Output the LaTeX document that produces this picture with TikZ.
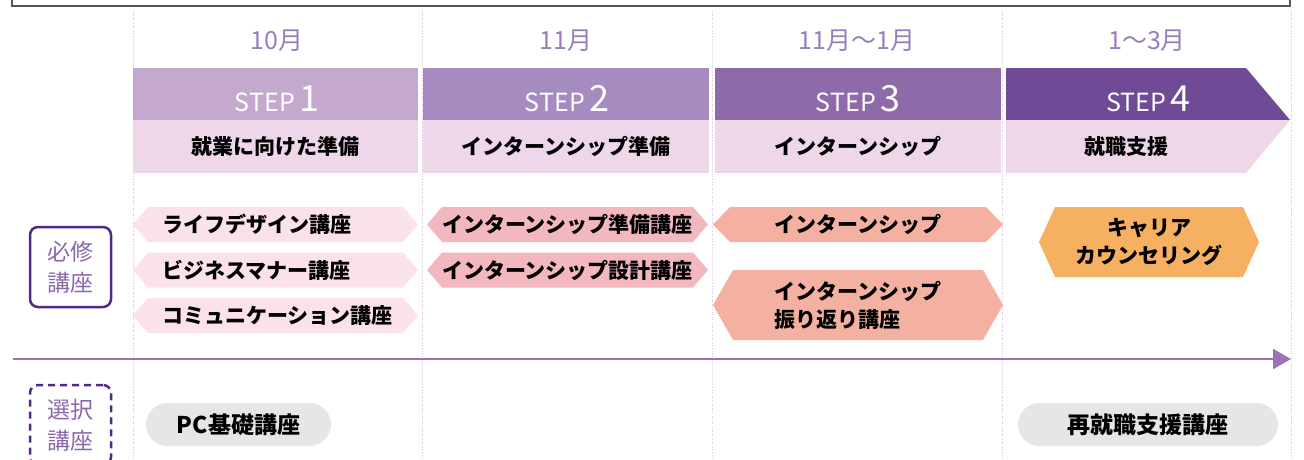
\documentclass[tikz,border=0pt]{standalone}
\usepackage{fontspec}
\setmainfont{Noto Sans CJK JP}
\usetikzlibrary{arrows.meta,backgrounds}

\definecolor{stepA}{RGB}{196,168,206}
\definecolor{stepB}{RGB}{165,139,192}
\definecolor{stepC}{RGB}{143,106,168}
\definecolor{stepD}{RGB}{110,74,151}
\definecolor{steprowcol}{RGB}{237,215,233}
\definecolor{hexA}{RGB}{251,225,235}
\definecolor{hexB}{RGB}{243,183,192}
\definecolor{hexC}{RGB}{244,177,161}
\definecolor{hexD}{RGB}{245,176,98}
\definecolor{pillcol}{RGB}{230,230,230}
\definecolor{monthcol}{RGB}{154,125,189}
\definecolor{boxcol}{RGB}{79,42,138}
\definecolor{labelcol}{RGB}{139,104,174}
\definecolor{axiscol}{RGB}{156,115,183}
\definecolor{dotcol}{RGB}{221,187,221}
\definecolor{framecol}{RGB}{85,85,85}

\begin{document}
\begin{tikzpicture}[x=1pt,y=1pt,yscale=-1,
  month/.style={text=monthcol,inner sep=0,font=\fontsize{25}{25}\selectfont},
  stephead/.style={minimum height=52,inner sep=0,outer sep=0},
  steplabel/.style={text=white,inner sep=0},
  steprow/.style={fill=steprowcol,minimum height=53,inner sep=0,outer sep=0,font=\bfseries\fontsize{21}{21}\selectfont},
  kouza/.style={minimum height=35,inner sep=0,outer sep=0,align=center,font=\bfseries\fontsize{21}{28}\selectfont},
  pill/.style={fill=pillcol,minimum height=43,rounded corners=21.5pt,inner sep=0,font=\bfseries\fontsize{23}{23}\selectfont},
  catbox/.style={minimum width=81,minimum height=80,rounded corners=8pt,line width=2.5pt,draw=boxcol,text=labelcol,align=center,inner sep=0,font=\fontsize{23}{31}\selectfont},
  dotline/.style={dotcol,line width=1pt,dash pattern=on 1pt off 1.6pt},
  timeline/.style={axiscol,line width=2.5pt,-{Triangle[length=18pt,width=20pt]}}]
\useasboundingbox (0,0) rectangle (1304,459);

%Frame above
\draw [framecol,line width=2.5pt] (12,-10) -- (12,6) -- (1290,6) -- (1290,-10) ;

%Dotted column lines
\begin{scope}[on background layer]
\foreach \x in {133,422,712,1002,1291}
  \draw [dotline] (\x,10) -- (\x,459) ;
\end{scope}

% Month labels
\node [month] (m1) at (277,41) {10月};
\node [month] (m2) at (566,41) {11月};
\node [month] (m3) at (857,41) {11月〜1月};
\node [month] (m4) at (1147,41) {1〜3月};

%Shape: Step heads
\node [stephead,fill=stepA,minimum width=285] (s1) at (275.5,94) {};
\node [stephead,fill=stepB,minimum width=286] (s2) at (566,94) {};
\node [stephead,fill=stepC,minimum width=286] (s3) at (858,94) {};
\fill [stepD] (1006,68) -- (1246,68) -- (1290,120) -- (1006,120) -- cycle ;
\fill [steprowcol] (1006,120) -- (1290,120) -- (1246,173) -- (1006,173) -- cycle ;

% Text Node
\foreach \n/\x in {1/277,2/567,3/858,4/1148}
  \node [steplabel] (t\n) at (\x,99) {\fontsize{25}{25}\selectfont STEP\,\fontsize{36}{36}\selectfont\n};

%Shape: Step rows
\node [steprow,minimum width=285] (r1) at (275.5,146.5) {就業に向けた準備};
\node [steprow,minimum width=286] (r2) at (566,146.5) {インターンシップ準備};
\node [steprow,minimum width=286] (r3) at (858,146.5) {インターンシップ};
\node [steprow,fill=none,minimum width=240] (r4) at (1126,146.5) {就職支援};

% Category boxes
\node [catbox] (hissu) at (70.5,267) {必修\\講座};
\node [catbox,dash pattern=on 7pt off 5pt] (sentaku) at (70.5,425) {選択\\講座};

% Required courses
\node [kouza,minimum width=255,text width=227,align=left] (k1) at (275.5,224.5) {ライフデザイン講座};
\node [kouza,minimum width=255,text width=227,align=left] (k2) at (275.5,270) {ビジネスマナー講座};
\node [kouza,minimum width=255,text width=227,align=left] (k3) at (275.5,315.5) {コミュニケーション講座};
\node [kouza,minimum width=251] (k4) at (567.5,224.5) {インターンシップ準備講座};
\node [kouza,minimum width=251] (k5) at (567.5,270) {インターンシップ設計講座};
\node [kouza,minimum width=256] (k6) at (858,224.5) {インターンシップ};
\node [kouza,minimum width=250,minimum height=70,align=left] (k7) at (858,305) {インターンシップ\\振り返り講座};
\node [kouza,minimum width=188,minimum height=70] (k8) at (1149,242) {キャリア\\カウンセリング};

\begin{scope}[on background layer]
\foreach \n/\c/\d in {k1/hexA/15,k2/hexA/15,k3/hexA/15,k4/hexB/15,k5/hexB/15,k6/hexC/17,k7/hexC/20,k8/hexD/16}
  \fill [\c] (\n.north west) -- (\n.north east) -- ([xshift=\d]\n.east) -- (\n.south east)
    -- (\n.south west) -- ([xshift=-\d]\n.west) -- cycle ;
\end{scope}

% Time axis
\coordinate (ax0) at (13,359);
\coordinate (ax1) at (1291,359);
\draw [timeline] (ax0) -- (ax1) ;

% Elective courses
\node [pill,minimum width=185] (p1) at (238.5,424.5) {PC基礎講座};
\node [pill,minimum width=260] (p2) at (1148,424.5) {再就職支援講座};

\end{tikzpicture}
\end{document}
